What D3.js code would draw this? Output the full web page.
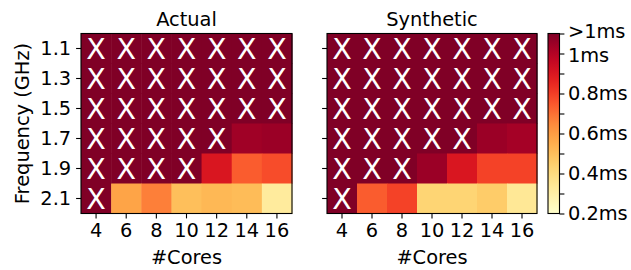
<!DOCTYPE html>
<html>
<head>
<meta charset="utf-8">
<script src="https://cdn.jsdelivr.net/npm/d3@7"></script>
<style>
  body { margin: 0; background: #fff; }
  svg text { font-family: "DejaVu Sans", sans-serif; fill: #000; }
</style>
</head>
<body>
<svg id="chart" width="631" height="270"></svg>
<script>
// --- data (null = above the colour range, drawn with an X) ---
const cores = [4, 6, 8, 10, 12, 14, 16];
const freqs = ['1.1', '1.3', '1.5', '1.7', '1.9', '2.1'];

const actual = [
    [null, null, null, null, null, null, null],
    [null, null, null, null, null, null, null],
    [null, null, null, null, null, null, null],
    [null, null, null, null, null, 1.04, 1.05],
    [null, null, null, null, 0.90, 0.74, 0.77],
    [null, 0.58, 0.67, 0.50, 0.52, 0.51, 0.32]
];
const synthetic = [
    [null, null, null, null, null, null, null],
    [null, null, null, null, null, null, null],
    [null, null, null, null, null, null, null],
    [null, null, null, null, null, 1.05, 1.03],
    [null, null, null, 1.05, 0.90, 0.79, 0.79],
    [null, 0.74, 0.79, 0.43, 0.43, 0.46, 0.34]
];

const cbTicks = [0.2, 0.3, 0.4, 0.5, 0.6, 0.7, 0.8, 0.9, 1.0, 1.1];
const cbLabels = { 0.2: '0.2ms', 0.4: '0.4ms', 0.6: '0.6ms', 0.8: '0.8ms', 1.0: '1ms', 1.1: '>1ms' };

const vmin = 0.2, vmax = 1.1;
const fontSize = 19.4;

const svg = d3.select('#chart');
const yTop = 33.5, yBottom = 213.5;

const color = d3.scaleSequential(d3.interpolateYlOrRd).domain([vmin, vmax]).clamp(true);

const y = d3.scaleBand().domain(freqs).range([yTop, yBottom]);

function panel(x0, x1, data, title, showYLabels) {
    const x = d3.scaleBand().domain(cores).range([x0, x1]);
    const g = svg.append('g');

    const cells = [];
    data.forEach((row, i) => row.forEach((v, j) => cells.push({ f: freqs[i], c: cores[j], v })));

    g.selectAll('rect.cell')
        .data(cells)
        .enter().append('rect')
        .attr('class', 'cell')
        .attr('x', d => x(d.c))
        .attr('y', d => y(d.f))
        .attr('width', x.bandwidth() + 0.5)
        .attr('height', y.bandwidth() + 0.5)
        .attr('fill', d => d.v === null ? color(vmax) : color(d.v));

    const xSize = 28.5;
    g.selectAll('text.mark')
        .data(cells.filter(d => d.v === null))
        .enter().append('text')
        .attr('class', 'mark')
        .attr('x', d => x(d.c) + x.bandwidth() / 2)
        .attr('y', d => y(d.f) + y.bandwidth() / 2 + xSize * 0.729 / 2)
        .attr('text-anchor', 'middle')
        .attr('font-size', xSize + 'px')
        .style('fill', '#fff')
        .text('X');

    // frame
    g.append('rect')
        .attr('x', x0).attr('y', yTop)
        .attr('width', x1 - x0).attr('height', yBottom - yTop)
        .attr('fill', 'none').attr('stroke', '#000').attr('stroke-width', 1.1);

    // x axis
    const xa = g.append('g')
        .attr('transform', `translate(0,${yBottom})`)
        .call(d3.axisBottom(x).tickSize(4.9).tickPadding(4.9));
    xa.select('.domain').remove();
    xa.selectAll('line').attr('stroke', '#000').attr('stroke-width', 1.1);
    xa.selectAll('text').attr('font-size', fontSize + 'px').attr('font-family', 'DejaVu Sans');

    // y axis
    const ya = g.append('g')
        .attr('transform', `translate(${x0},0)`)
        .call(d3.axisLeft(y).tickSize(4.9).tickPadding(4.9)
            .tickFormat(d => showYLabels ? d : ''));
    ya.select('.domain').remove();
    ya.selectAll('line').attr('stroke', '#000').attr('stroke-width', 1.1);
    ya.selectAll('text').attr('font-size', fontSize + 'px').attr('font-family', 'DejaVu Sans');

    g.append('text')
        .attr('x', (x0 + x1) / 2).attr('y', 26)
        .attr('text-anchor', 'middle')
        .attr('font-size', fontSize + 'px')
        .text(title);

    g.append('text')
        .attr('x', (x0 + x1) / 2).attr('y', 264)
        .attr('text-anchor', 'middle')
        .attr('font-size', fontSize + 'px')
        .text('#Cores');
}

panel(81, 292, actual, 'Actual', true);
panel(327, 537, synthetic, 'Synthetic', false);

svg.append('text')
    .attr('transform', `translate(29,${(yTop + yBottom) / 2}) rotate(-90)`)
    .attr('text-anchor', 'middle')
    .attr('font-size', fontSize + 'px')
    .text('Frequency (GHz)');

// --- colorbar ---
const cbX0 = 548, cbX1 = 559.5;
const cy = d3.scaleLinear().domain([vmin, vmax]).range([yBottom, yTop]);

const grad = svg.append('defs').append('linearGradient')
    .attr('id', 'cbgrad')
    .attr('x1', '0').attr('y1', '1').attr('x2', '0').attr('y2', '0');
d3.range(0, 1.0001, 0.05).forEach(t => {
    grad.append('stop')
        .attr('offset', t)
        .attr('stop-color', color(vmin + t * (vmax - vmin)));
});

svg.append('rect')
    .attr('x', cbX0).attr('y', yTop)
    .attr('width', cbX1 - cbX0).attr('height', yBottom - yTop)
    .attr('fill', 'url(#cbgrad)')
    .attr('stroke', '#000').attr('stroke-width', 1.1);

const cba = svg.append('g')
    .attr('transform', `translate(${cbX1},0)`)
    .call(d3.axisRight(cy).tickValues(cbTicks).tickSize(4.9).tickPadding(3.5)
        .tickFormat(d => cbLabels[Math.round(d * 10) / 10] || ''));
cba.select('.domain').remove();
cba.selectAll('line').attr('stroke', '#000').attr('stroke-width', 1.1);
cba.selectAll('text').attr('font-size', fontSize + 'px').attr('font-family', 'DejaVu Sans');
// the two top labels sit close together, as in the source figure
cba.selectAll('.tick').filter(d => d > 1.05).select('text').attr('dy', '0.2em');
cba.selectAll('.tick').filter(d => Math.abs(d - 1.0) < 0.01).select('text').attr('dy', '0.42em');
</script>
</body>
</html>
